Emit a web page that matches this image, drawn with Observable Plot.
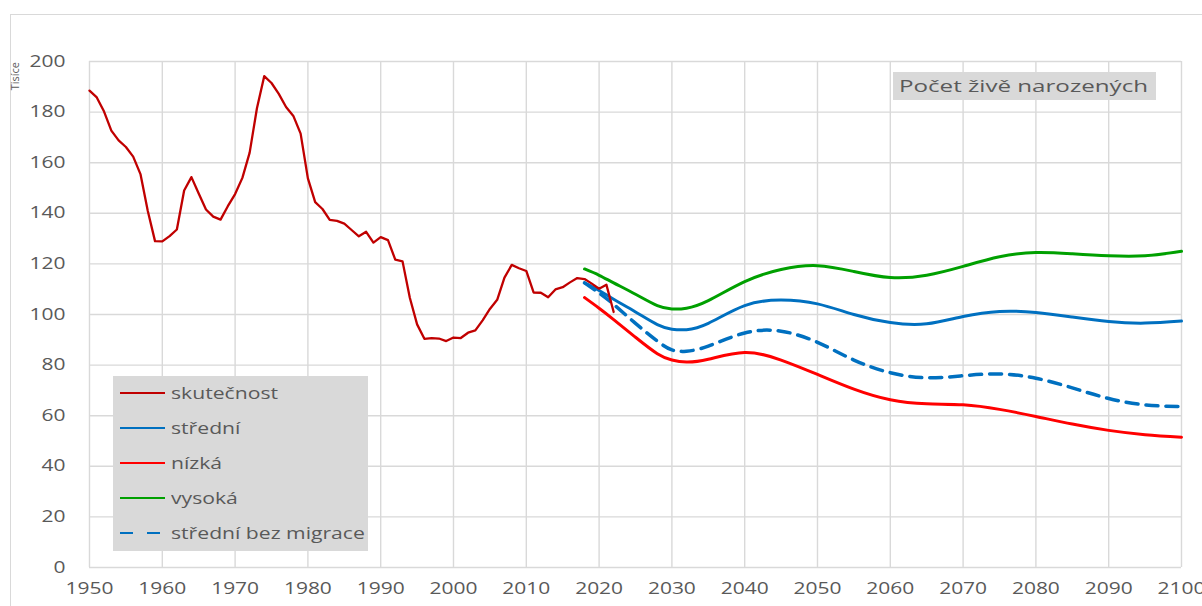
<!DOCTYPE html>
<html>
<head>
<meta charset="utf-8">
<script src="https://cdn.jsdelivr.net/npm/d3@7"></script>
<script src="https://cdn.jsdelivr.net/npm/@observablehq/plot@0.6"></script>
<style>
  body { margin: 0; background: #fff; font-family: "Open Sans", sans-serif; }
  #wrap { position: relative; width: 1202px; height: 606px; overflow: hidden; }
  #frame { position: absolute; left: 10px; top: 14px; width: 1300px; height: 700px; border: 1px solid #d9d9d9; box-sizing: border-box; }
  #chart { position: absolute; left: 0; top: 0; }
  #ylabel { position: absolute; left: 8px; top: 62px; font-size: 11px; color: #595959; writing-mode: vertical-rl; transform: rotate(180deg); line-height: 13px; }
  #legend { position: absolute; left: 113px; top: 376px; width: 255px; height: 175px; background: #d9d9d9; }
  .item { position: absolute; left: 0; height: 24px; width: 255px; }
  .item svg { position: absolute; left: 7px; top: 0; }
  .item span { position: absolute; left: 58px; top: 0; line-height: 24px; font-size: 16px; color: #595959; white-space: nowrap; transform-origin: 0 50%; }
  #title { position: absolute; left: 893px; top: 72px; width: 263px; height: 28px; background: #d9d9d9; }
  #title span { position: absolute; left: 6px; top: 0; line-height: 28px; font-size: 17px; color: #595959; white-space: nowrap; transform-origin: 0 50%; }
</style>
</head>
<body>
<div id="wrap">
  <div id="frame"></div>
  <div id="chart"></div>
  <div id="ylabel">Tisíce</div>
  <div id="legend"></div>
  <div id="title"><span>Počet živě narozených</span></div>
</div>
<script>
// ---- data ----
const actualStartYear = 1950;
const actualValues = [
  188.5, 185.8, 180.2, 172.7, 168.8, 166.2, 162.4, 155.5, 141.0, 129.0,
  128.9, 131.0, 133.6, 149.0, 154.3, 147.8, 141.5, 138.7, 137.5, 142.8,
  147.6, 154.0, 164.0, 181.5, 194.2, 191.5, 187.2, 182.0, 178.5, 171.5,
  153.8, 144.4, 141.7, 137.4, 137.0, 135.9, 133.4, 130.9, 132.7, 128.4,
  130.6, 129.4, 121.7, 121.0, 106.6, 96.1, 90.4, 90.7, 90.5, 89.5,
  90.9, 90.7, 92.8, 93.7, 97.7, 102.2, 105.8, 114.6, 119.6, 118.3,
  117.2, 108.7, 108.6, 106.8, 109.9, 110.8, 112.7, 114.4, 114.0, 112.2,
  110.2, 111.8, 101.0
];
const projYears = [2018, 2020, 2022, 2025, 2028, 2030, 2032, 2035, 2040, 2045, 2050, 2055, 2060, 2065, 2070, 2075, 2080, 2085, 2090, 2095, 2100];
const stredni     = [112.5, 109.5, 106.0, 101.0, 96.0, 94.2, 94.0, 96.5, 103.5, 105.7, 104.2, 100.0, 96.8, 96.3, 99.2, 101.2, 100.8, 99.0, 97.2, 96.6, 97.4];
const nizka       = [106.7, 102.5, 98.0, 91.0, 84.5, 82.0, 81.2, 82.3, 85.0, 82.0, 76.3, 70.5, 66.3, 64.7, 64.3, 62.5, 59.7, 56.7, 54.2, 52.5, 51.5];
const vysoka      = [118.0, 115.5, 112.5, 108.0, 103.5, 102.2, 102.5, 105.5, 113.0, 117.8, 119.3, 117.0, 114.6, 115.5, 119.0, 122.8, 124.5, 124.0, 123.2, 123.2, 125.0];
const bezMigrace  = [112.5, 108.5, 104.0, 96.5, 89.5, 86.0, 85.5, 87.5, 92.7, 93.4, 89.0, 82.0, 77.0, 75.0, 75.8, 76.5, 74.8, 71.0, 66.8, 64.3, 63.6];
const xTicks = [1950, 1960, 1970, 1980, 1990, 2000, 2010, 2020, 2030, 2040, 2050, 2060, 2070, 2080, 2090, 2100];
const yTicks = [0, 20, 40, 60, 80, 100, 120, 140, 160, 180, 200];
const seriesNames  = ["skutečnost", "střední", "nízká", "vysoká", "střední bez migrace"];
const seriesColors = ["#c00000", "#0070c0", "#ff0000", "#00a000", "#0070c0"];
const seriesDash   = [null, null, null, null, "13,14"];

// ---- tables ----
const actual = actualValues.map((v, i) => ({year: actualStartYear + i, value: v}));
const proj = (arr) => arr.map((v, i) => ({year: projYears[i], value: v}));

const chart = Plot.plot({
  width: 1202,
  height: 606,
  marginLeft: 89,
  marginRight: 21,
  marginTop: 61,
  marginBottom: 39,
  style: {fontFamily: "'Open Sans', sans-serif", fontSize: "16px", color: "#595959", background: "transparent"},
  x: {domain: [1950, 2100]},
  y: {domain: [0, 200]},
  marks: [
    Plot.gridX(xTicks, {stroke: "#d9d9d9", strokeOpacity: 1, strokeWidth: 1.4}),
    Plot.gridY(yTicks, {stroke: "#d9d9d9", strokeOpacity: 1, strokeWidth: 1.4}),
    Plot.axisX(xTicks, {tickSize: 0, tickPadding: 15, tickFormat: d => String(d), label: null}),
    Plot.axisY(yTicks, {tickSize: 0, tickPadding: 24, label: null}),
    Plot.line(proj(vysoka), {x: "year", y: "value", stroke: seriesColors[3], strokeWidth: 3, curve: "natural"}),
    Plot.line(proj(stredni), {x: "year", y: "value", stroke: seriesColors[1], strokeWidth: 3, curve: "natural"}),
    Plot.line(proj(nizka), {x: "year", y: "value", stroke: seriesColors[2], strokeWidth: 3, curve: "natural"}),
    Plot.line(proj(bezMigrace), {x: "year", y: "value", stroke: seriesColors[4], strokeWidth: 3.5, strokeDasharray: "12,8", curve: "natural"}),
    Plot.line(actual, {x: "year", y: "value", stroke: seriesColors[0], strokeWidth: 2.3})
  ]
});
document.getElementById("chart").appendChild(chart);

// horizontal stretch of tick labels (reference text is wide)
chart.querySelectorAll('g[aria-label$="tick label"] text').forEach(t => {
  const tr = t.getAttribute("transform") || "";
  t.setAttribute("transform", tr + " scale(1.31,1)");
});

// ---- legend ----
const legend = document.getElementById("legend");
const centers = [17, 52, 87, 122, 157];
const spans = [];
seriesNames.forEach((name, i) => {
  const it = document.createElement("div");
  it.className = "item";
  it.style.top = (centers[i] - 12) + "px";
  const dash = seriesDash[i] ? `stroke-dasharray="${seriesDash[i]}"` : "";
  it.innerHTML = `<svg width="48" height="24"><line x1="0" x2="${seriesDash[i] ? 42 : 45}" y1="12" y2="12" stroke="${seriesColors[i]}" stroke-width="2.2" ${dash}/></svg><span>${name}</span>`;
  legend.appendChild(it);
  spans.push(it.querySelector("span"));
});
const k = 107 / spans[0].getBoundingClientRect().width;
spans.forEach(s => s.style.transform = `scaleX(${k})`);

const ts = document.querySelector("#title span");
ts.style.transform = `scaleX(${249 / ts.getBoundingClientRect().width})`;
</script>
</body>
</html>
